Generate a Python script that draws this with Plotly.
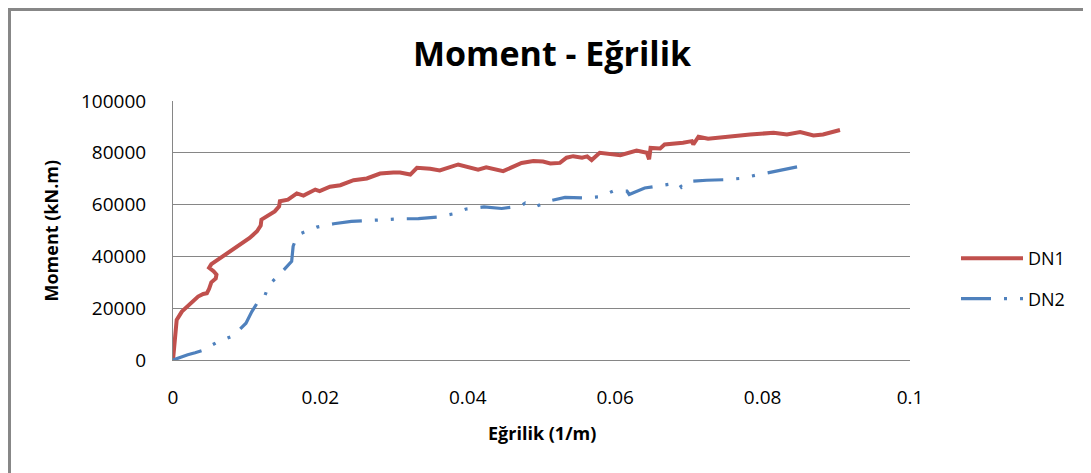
import plotly.graph_objects as go

# ================================ Datos ================================
dn1_x = [0, 0.0003, 0.0005, 0.0012, 0.0019, 0.0028, 0.0034, 0.0041, 0.0046, 0.0049, 0.0052,
         0.0058, 0.0059, 0.0055, 0.0049, 0.0052, 0.0061, 0.0073, 0.0091, 0.0104, 0.0114,
         0.0119, 0.0120, 0.0127, 0.0138, 0.0144, 0.0145, 0.0156, 0.0168, 0.0177, 0.0193,
         0.0199, 0.0213, 0.0227, 0.0245, 0.0263, 0.0281, 0.0299, 0.0308, 0.0322, 0.0331,
         0.0349, 0.0362, 0.0387, 0.0414, 0.0425, 0.0448, 0.0473, 0.0489, 0.0502, 0.0512,
         0.0525, 0.0534, 0.0543, 0.0555, 0.0562, 0.0568, 0.0579, 0.0597, 0.0607, 0.0629,
         0.0643, 0.0646, 0.0648, 0.0661, 0.0667, 0.0692, 0.0704, 0.0706, 0.0713, 0.0726,
         0.0751, 0.0783, 0.0815, 0.0833, 0.0851, 0.0869, 0.0882, 0.0905]
dn1_y = [0, 8000, 15500, 18700, 20600, 22600, 24500, 25500, 25800, 27500, 30000,
         31500, 33000, 34300, 35600, 37000, 38800, 41300, 44900, 47100, 49700,
         51900, 54200, 55500, 57400, 59300, 61300, 61900, 64300, 63500, 65800,
         65200, 66900, 67500, 69400, 70100, 72000, 72400, 72400, 71600, 74200,
         73800, 73200, 75500, 73500, 74400, 72900, 76100, 76800, 76600, 75900,
         76100, 78100, 78700, 78100, 78600, 77200, 80000, 79600, 79100, 80900,
         80000, 77500, 81900, 81700, 83200, 83900, 84500, 83200, 86200, 85400,
         86200, 87100, 87700, 87100, 88000, 86700, 87100, 88800]

dn2_x = [0, 0.001, 0.002, 0.003, 0.0039, 0.006, 0.0082, 0.0099, 0.0107, 0.0114, 0.0123,
         0.013, 0.0146, 0.0161, 0.0163, 0.0168, 0.0173, 0.0195, 0.0218, 0.0242, 0.0285,
         0.0308, 0.0333, 0.0358, 0.038, 0.0398, 0.0422, 0.0446, 0.0471, 0.0478, 0.0491,
         0.0509, 0.0532, 0.0556, 0.0579, 0.0597, 0.0616, 0.0619, 0.064, 0.0663, 0.0686,
         0.069, 0.0704, 0.0724, 0.0747, 0.0769, 0.0792, 0.0815, 0.0833, 0.0851]
dn2_y = [0, 1100, 2000, 2800, 3600, 6900, 9400, 14200, 18700, 21900, 23500,
         29000, 33400, 38100, 43900, 47700, 48800, 51300, 52600, 53500, 54200,
         54500, 54600, 55200, 56400, 58300, 59100, 58500, 59400, 60600, 59100,
         61300, 62800, 62600, 63000, 65200, 65200, 63900, 66400, 67500, 68400,
         66700, 69000, 69400, 69600, 70100, 71400, 72500, 73500, 74800]

y_ticks = [0, 20000, 40000, 60000, 80000, 100000]
x_ticks = [0, 0.02, 0.04, 0.06, 0.08, 0.1]

FONT = 'Open Sans'
GRID = '#868686'

# plot area in figure pixels (the page adds an 8px body margin)
L, R, T, B = 165, 902, 93, 352


def px(fx):
    return (fx - L) / (R - L)


def py(fy):
    return (B - fy) / (B - T)


# ================================ Gráfico ================================
fig = go.Figure()
fig.add_trace(go.Scatter(x=dn1_x, y=dn1_y, mode='lines', name='DN1', legendgroup='a',
                         line=dict(color='#C0504D', width=4)))
fig.add_trace(go.Scatter(x=dn2_x, y=dn2_y, mode='lines', name='DN2', legendgroup='b',
                         line=dict(color='#4F81BD', width=3.2,
                                   dash='30px,13px,3px,13px,3px,13px')))

fig.update_layout(
    width=1091,
    height=473,
    margin=dict(l=L, r=1091 - R, t=T, b=473 - B),
    paper_bgcolor='white',
    plot_bgcolor='white',
    font=dict(family=FONT, color='#000000'),
    showlegend=True,
    legend=dict(x=px(948), xanchor='left', y=py(232), yanchor='top',
                font=dict(size=18, family=FONT), itemwidth=62, tracegroupgap=14,
                bgcolor='rgba(0,0,0,0)'),
    xaxis=dict(range=[0, 0.1], tickvals=x_ticks, ticktext=[str(v) for v in x_ticks],
               showgrid=False, showline=True, linecolor=GRID, linewidth=1,
               zeroline=False, ticks='', ticklabelstandoff=20,
               tickfont=dict(size=19, family=FONT)),
    yaxis=dict(range=[0, 100000], tickvals=y_ticks, ticktext=[str(v) for v in y_ticks],
               showgrid=True, gridcolor=GRID, gridwidth=1,
               showline=True, linecolor=GRID, linewidth=1,
               zeroline=False, ticks='', ticklabelstandoff=22,
               tickfont=dict(size=19, family=FONT)),
    shapes=[dict(type='rect', xref='paper', yref='paper',
                 x0=px(1.5), x1=px(1100), y0=py(490), y1=py(1.5),
                 line=dict(color='#878787', width=3), fillcolor='rgba(0,0,0,0)',
                 layer='below')],
    annotations=[
        dict(text='<b>Moment - Eğrilik</b>', xref='paper', yref='paper',
             x=px(544.5), y=py(45), showarrow=False,
             xanchor='center', yanchor='middle', font=dict(size=34, family=FONT)),
        dict(text='<b>Eğrilik (1/m)</b>', xref='paper', yref='paper',
             x=0.5, y=py(425), showarrow=False,
             xanchor='center', yanchor='middle', font=dict(size=18, family=FONT)),
        dict(text='<b>Moment (kN.m)</b>', xref='paper', yref='paper',
             x=px(42), y=0.5, showarrow=False, textangle=-90,
             xanchor='center', yanchor='middle', font=dict(size=18, family=FONT)),
    ],
)

fig.write_html("out.html")
